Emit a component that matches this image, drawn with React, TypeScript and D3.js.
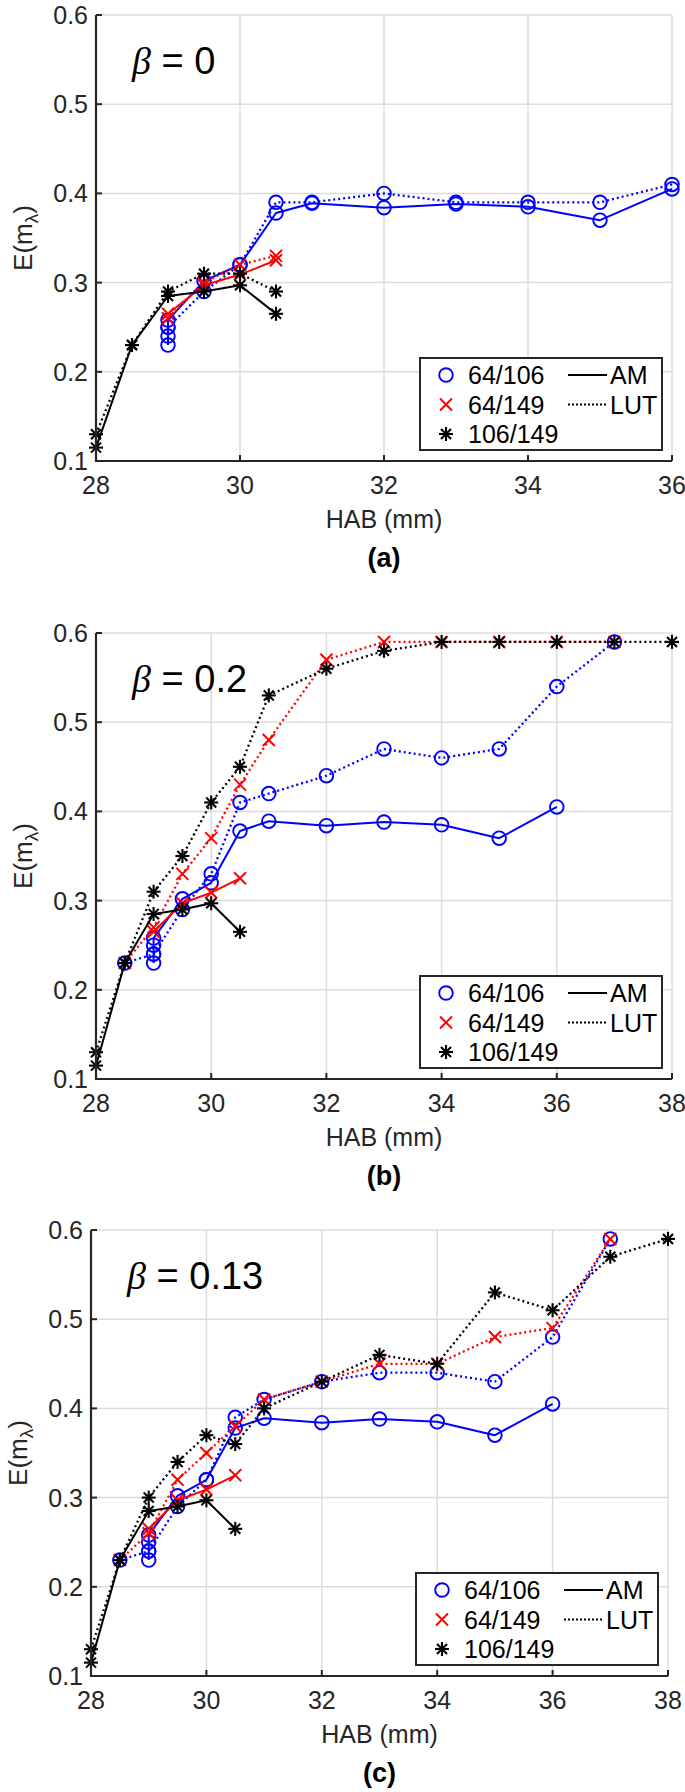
import React from "react";
import * as d3 from "d3";

// ---------- data ----------
const betaLabels = ["0", "0.2", "0.13"];
const panelTags = ["(a)", "(b)", "(c)"];
const xMaxes = [36, 38, 38];
const xTicksA = [28, 30, 32, 34, 36];
const xTicksBC = [28, 30, 32, 34, 36, 38];
const yTicks = [0.1, 0.2, 0.3, 0.4, 0.5, 0.6];
const legendNames = ["64/106", "64/149", "106/149"];
const methodNames = ["AM", "LUT"];

// AM results (identical in every panel)
const amBlueX = [29, 29, 29, 29, 29.5, 30, 30.5, 31, 32, 33, 34, 35, 36];
const amBlueY = [0.23, 0.24, 0.25, 0.258, 0.302, 0.32, 0.378, 0.389, 0.384, 0.388, 0.385, 0.37, 0.405];
const amRedX = [29, 29.5, 30, 30.5];
const amRedY = [0.265, 0.297, 0.309, 0.325];
const amBlackX = [28, 28.5, 29, 29.5, 30, 30.5];
const amBlackY = [0.115, 0.23, 0.285, 0.29, 0.297, 0.265];

// LUT results, beta = 0
const lutBlueXa = [29, 29.5, 30, 30.5, 31, 32, 33, 34, 35, 36];
const lutBlueYa = [0.25, 0.29, 0.32, 0.39, 0.39, 0.4, 0.39, 0.39, 0.39, 0.41];
const lutRedXa = [29, 29.5, 30, 30.5];
const lutRedYa = [0.26, 0.3, 0.32, 0.33];
const lutBlackXa = [28, 28.5, 29, 29.5, 30, 30.5];
const lutBlackYa = [0.13, 0.23, 0.29, 0.31, 0.31, 0.29];

// LUT results, beta = 0.2
const lutBlueXb = [28.5, 29, 29.5, 30, 30.5, 31, 32, 33, 34, 35, 36, 37];
const lutBlueYb = [0.23, 0.24, 0.29, 0.33, 0.41, 0.42, 0.44, 0.47, 0.46, 0.47, 0.54, 0.59];
const lutRedXb = [28.5, 29, 29.5, 30, 30.5, 31, 32, 33, 34, 35, 36, 37];
const lutRedYb = [0.23, 0.27, 0.33, 0.37, 0.43, 0.48, 0.57, 0.59, 0.59, 0.59, 0.59, 0.59];
const lutBlackXb = [28, 28.5, 29, 29.5, 30, 30.5, 31, 32, 33, 34, 35, 36, 37, 38];
const lutBlackYb = [0.13, 0.23, 0.31, 0.35, 0.41, 0.45, 0.53, 0.56, 0.58, 0.59, 0.59, 0.59, 0.59, 0.59];

// LUT results, beta = 0.13
const lutBlueXc = [28.5, 29, 29.5, 30, 30.5, 31, 32, 33, 34, 35, 36, 37];
const lutBlueYc = [0.23, 0.24, 0.29, 0.32, 0.39, 0.41, 0.43, 0.44, 0.44, 0.43, 0.48, 0.59];
const lutRedXc = [28.5, 29, 29.5, 30, 30.5, 31, 32, 33, 34, 35, 36, 37];
const lutRedYc = [0.23, 0.26, 0.32, 0.35, 0.38, 0.41, 0.43, 0.45, 0.45, 0.48, 0.49, 0.59];
const lutBlackXc = [28, 28.5, 29, 29.5, 30, 30.5, 31, 32, 33, 34, 35, 36, 37, 38];
const lutBlackYc = [0.13, 0.23, 0.3, 0.34, 0.37, 0.36, 0.4, 0.43, 0.46, 0.45, 0.53, 0.51, 0.57, 0.59];

// ---------- styling / layout ----------
const W = 685;
const HT = 1792;
const FONT = "'Liberation Sans', Arial, Helvetica, sans-serif";
const AXIS = "#262626";
const GRID = "#dcdcdc";
const BLUE = "#0000ff";
const RED = "#ff0000";
const BLACK = "#000000";
const PLOT_H = 446;
const layouts = [
  { top: 15, left: 96, right: 672 },
  { top: 633, left: 96, right: 672 },
  { top: 1230, left: 91, right: 668 },
];

type Pt = [number, number];
const zip = (xs: number[], ys: number[]): Pt[] => xs.map((x, i) => [x, ys[i]]);

const lutSets = [
  [zip(lutBlueXa, lutBlueYa), zip(lutRedXa, lutRedYa), zip(lutBlackXa, lutBlackYa)],
  [zip(lutBlueXb, lutBlueYb), zip(lutRedXb, lutRedYb), zip(lutBlackXb, lutBlackYb)],
  [zip(lutBlueXc, lutBlueYc), zip(lutRedXc, lutRedYc), zip(lutBlackXc, lutBlackYc)],
];
const amSet = [zip(amBlueX, amBlueY), zip(amRedX, amRedY), zip(amBlackX, amBlackY)];
const colors = [BLUE, RED, BLACK];
const markerKinds = ["o", "x", "*"];

function Marker({ kind, x, y, color }: { kind: string; x: number; y: number; color: string }) {
  if (kind === "o") {
    return <circle cx={x} cy={y} r={6.8} fill="none" stroke={color} strokeWidth={1.9} />;
  }
  if (kind === "x") {
    const s = 6;
    return (
      <g stroke={color} strokeWidth={2}>
        <line x1={x - s} y1={y - s} x2={x + s} y2={y + s} />
        <line x1={x - s} y1={y + s} x2={x + s} y2={y - s} />
      </g>
    );
  }
  const s = 7;
  const d = 5;
  return (
    <g stroke={color} strokeWidth={2.1}>
      <line x1={x - s} y1={y} x2={x + s} y2={y} />
      <line x1={x} y1={y - s} x2={x} y2={y + s} />
      <line x1={x - d} y1={y - d} x2={x + d} y2={y + d} />
      <line x1={x - d} y1={y + d} x2={x + d} y2={y - d} />
    </g>
  );
}

function Panel({ idx }: { idx: number }) {
  const L = layouts[idx];
  const bottom = L.top + PLOT_H;
  const x = d3.scaleLinear().domain([28, xMaxes[idx]]).range([L.left, L.right]);
  const y = d3.scaleLinear().domain([0.1, 0.6]).range([bottom, L.top]);
  const xTicks = idx === 0 ? xTicksA : xTicksBC;
  const line = d3
    .line<Pt>()
    .x((d) => x(d[0]))
    .y((d) => y(d[1]));
  const cx = (L.left + L.right) / 2;
  const lut = lutSets[idx];
  const legW = 242;
  const legH = 92;
  const legX = L.right - 10 - legW;
  const legY = bottom - 11 - legH;

  return (
    <g>
      {/* grid */}
      {xTicks.map((t) => (
        <line key={"gx" + t} x1={x(t)} x2={x(t)} y1={L.top} y2={bottom} stroke={GRID} strokeWidth={1.5} />
      ))}
      {yTicks.map((t) => (
        <line key={"gy" + t} x1={L.left} x2={L.right} y1={y(t)} y2={y(t)} stroke={GRID} strokeWidth={1.5} />
      ))}
      {/* series */}
      {[0, 1, 2].map((s) => (
        <g key={"s" + s}>
          <path d={line(amSet[s]) || ""} fill="none" stroke={colors[s]} strokeWidth={2} strokeLinejoin="round" />
          <path d={line(lut[s]) || ""} fill="none" stroke={colors[s]} strokeWidth={2.3} strokeDasharray="2 3" />
          {amSet[s].map((p, i) => (
            <Marker key={"am" + i} kind={markerKinds[s]} x={x(p[0])} y={y(p[1])} color={colors[s]} />
          ))}
          {lut[s].map((p, i) => (
            <Marker key={"lut" + i} kind={markerKinds[s]} x={x(p[0])} y={y(p[1])} color={colors[s]} />
          ))}
        </g>
      ))}
      {/* axes */}
      <line x1={L.left} x2={L.left} y1={L.top} y2={bottom + 1} stroke={AXIS} strokeWidth={2.2} />
      <line x1={L.left - 1} x2={L.right} y1={bottom} y2={bottom} stroke={AXIS} strokeWidth={2.2} />
      {yTicks.map((t) => (
        <g key={"ty" + t}>
          <line x1={L.left} x2={L.left + 6} y1={y(t)} y2={y(t)} stroke={AXIS} strokeWidth={2} />
          <text
            x={L.left - 8}
            y={y(t)}
            textAnchor="end"
            dominantBaseline="central"
            fontSize={25}
            fill={AXIS}
            fontFamily={FONT}
          >
            {t.toFixed(1)}
          </text>
        </g>
      ))}
      {xTicks.map((t) => (
        <g key={"tx" + t}>
          <line x1={x(t)} x2={x(t)} y1={bottom} y2={bottom - 6} stroke={AXIS} strokeWidth={2} />
          <text
            x={x(t)}
            y={bottom + 24}
            textAnchor="middle"
            dominantBaseline="central"
            fontSize={25}
            fill={AXIS}
            fontFamily={FONT}
          >
            {t}
          </text>
        </g>
      ))}
      {/* labels */}
      <text x={cx} y={bottom + 58} textAnchor="middle" dominantBaseline="central" fontSize={25} fill={AXIS} fontFamily={FONT}>
        HAB (mm)
      </text>
      <text
        x={cx}
        y={bottom + 97}
        textAnchor="middle"
        dominantBaseline="central"
        fontSize={27}
        fontWeight="bold"
        fill="#000"
        fontFamily={FONT}
      >
        {panelTags[idx]}
      </text>
      <text
        transform={`translate(${L.left - 64},${(L.top + bottom) / 2}) rotate(-90)`}
        textAnchor="middle"
        fontSize={26}
        fill={AXIS}
        fontFamily={FONT}
      >
        E(m
        <tspan fontSize={19} dy={6}>
          λ
        </tspan>
        <tspan dy={-6}>)</tspan>
      </text>
      <text x={L.left + 36} y={L.top + 59} fontSize={38} fill="#000" fontFamily={FONT}>
        <tspan fontStyle="italic" fontFamily="'Liberation Serif', 'DejaVu Serif', serif">
          β
        </tspan>
        {" = " + betaLabels[idx]}
      </text>
      {/* legend */}
      <g>
        <rect x={legX} y={legY} width={legW} height={legH} fill="#fff" stroke={AXIS} strokeWidth={2} />
        {legendNames.map((n, i) => {
          const ry = legY + 17 + i * 29.5;
          return (
            <g key={"leg" + n}>
              <Marker kind={markerKinds[i]} x={legX + 26} y={ry} color={colors[i]} />
              <text x={legX + 48} y={ry} dominantBaseline="central" fontSize={25} fill="#000" fontFamily={FONT}>
                {n}
              </text>
            </g>
          );
        })}
        {methodNames.map((n, i) => {
          const ry = legY + 17 + i * 29.5;
          return (
            <g key={"meth" + n}>
              <line
                x1={legX + 148}
                x2={legX + 187}
                y1={ry}
                y2={ry}
                stroke="#000"
                strokeWidth={i === 0 ? 2 : 2.2}
                strokeDasharray={i === 0 ? undefined : "2 2"}
              />
              <text x={legX + 190} y={ry} dominantBaseline="central" fontSize={25} fill="#000" fontFamily={FONT}>
                {n}
              </text>
            </g>
          );
        })}
      </g>
    </g>
  );
}

export default function App() {
  return (
    <div style={{ position: "absolute", left: 0, top: 0, width: W, height: HT, background: "#fff" }}>
      <svg width={W} height={HT} viewBox={`0 0 ${W} ${HT}`} style={{ display: "block" }}>
        <rect width={W} height={HT} fill="#fff" />
        {[0, 1, 2].map((i) => (
          <Panel key={i} idx={i} />
        ))}
      </svg>
    </div>
  );
}
